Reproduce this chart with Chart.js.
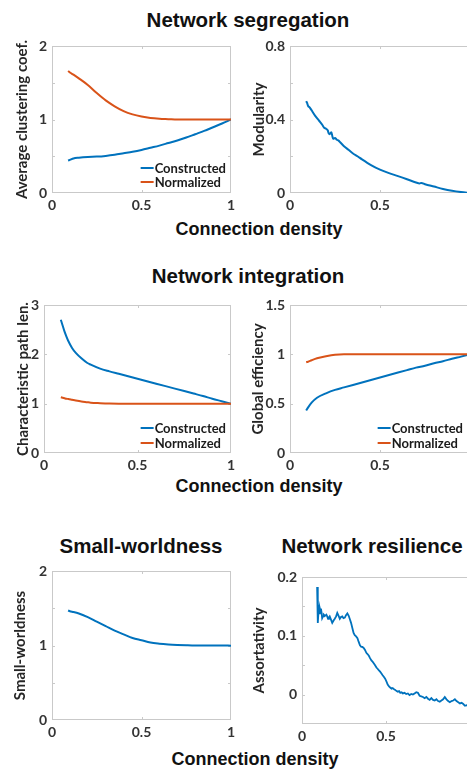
<!DOCTYPE html>
<html>
<head>
<meta charset="utf-8">
<script src="https://cdn.jsdelivr.net/npm/chart.js@4.4.1/dist/chart.umd.min.js"></script>
<style>
  html, body { margin: 0; padding: 0; background: #fff; }
  body { position: relative; width: 467px; height: 773px; overflow: hidden; }
  .ttl { position: absolute; font-family: "Liberation Sans", Arial, sans-serif; font-weight: bold;
         color: #111; white-space: nowrap; line-height: 1; transform: translate(-50%, -50%); }
  canvas { position: absolute; }
</style>
</head>
<body>
<div class="ttl" style="left:248px; top:20px; font-size:20.5px">Network segregation</div>
<div class="ttl" style="left:259px; top:229px; font-size:18px">Connection density</div>
<div class="ttl" style="left:248px; top:276px; font-size:20.5px">Network integration</div>
<div class="ttl" style="left:259px; top:486px; font-size:18px">Connection density</div>
<div class="ttl" style="left:141px; top:546px; font-size:20.5px">Small-worldness</div>
<div class="ttl" style="left:372px; top:546px; font-size:20.5px">Network resilience</div>
<div class="ttl" style="left:255px; top:759px; font-size:18px">Connection density</div>

<script>
// Connection density sample points
const densA = [0.09, 0.1, 0.12, 0.15, 0.2, 0.25, 0.3, 0.35, 0.4, 0.45, 0.5, 0.55, 0.6, 0.65, 0.7, 0.75, 0.8, 0.85, 0.9, 0.95, 1.0];
const densP = [0.09, 0.1, 0.11, 0.12, 0.13, 0.15, 0.17, 0.2, 0.23, 0.25, 0.3, 0.35, 0.4, 0.45, 0.5, 0.55, 0.6, 0.65, 0.7, 0.75, 0.8, 0.85, 0.9, 0.95, 1.0];
const densM = [0.09, 0.095, 0.1, 0.11, 0.12, 0.14, 0.16, 0.18, 0.19, 0.2, 0.21, 0.215, 0.22, 0.23, 0.235, 0.24, 0.25, 0.26, 0.27, 0.28, 0.3, 0.325, 0.35, 0.375, 0.4, 0.45, 0.5, 0.55, 0.6, 0.65, 0.7, 0.72, 0.73, 0.75, 0.8, 0.85, 0.9, 0.95, 1.0];
const densR = [0.09, 0.093, 0.095, 0.098, 0.1, 0.103, 0.106, 0.11, 0.113, 0.117, 0.12, 0.125, 0.13, 0.137, 0.145, 0.15, 0.155, 0.16, 0.165, 0.172, 0.18, 0.188, 0.195, 0.203, 0.21, 0.218, 0.225, 0.232, 0.24, 0.247, 0.255, 0.262, 0.27, 0.278, 0.285, 0.292, 0.3, 0.307, 0.314, 0.322, 0.33, 0.337, 0.345, 0.353, 0.36, 0.368, 0.375, 0.383, 0.39, 0.398, 0.405, 0.413, 0.42, 0.428, 0.435, 0.443, 0.45, 0.458, 0.465, 0.473, 0.48, 0.488, 0.495, 0.503, 0.51, 0.518, 0.525, 0.533, 0.54, 0.548, 0.555, 0.563, 0.57, 0.578, 0.585, 0.593, 0.6, 0.61, 0.62, 0.63, 0.64, 0.65, 0.66, 0.67, 0.68, 0.69, 0.7, 0.71, 0.72, 0.73, 0.74, 0.75, 0.76, 0.77, 0.78, 0.79, 0.8, 0.81, 0.82, 0.83, 0.84, 0.85, 0.86, 0.87, 0.88, 0.89, 0.9, 0.91, 0.92, 0.93, 0.94, 0.95, 0.96, 0.97, 0.98, 0.99, 1.0];

// Network segregation
const clusteringConstructed = [0.44, 0.45, 0.47, 0.48, 0.49, 0.495, 0.505, 0.52, 0.54, 0.56, 0.585, 0.615, 0.645, 0.68, 0.715, 0.755, 0.8, 0.845, 0.895, 0.945, 1.0];
const clusteringNormalized  = [1.66, 1.64, 1.61, 1.56, 1.47, 1.36, 1.26, 1.18, 1.115, 1.07, 1.04, 1.02, 1.01, 1.005, 1.0, 1.0, 1.0, 1.0, 1.0, 1.0, 1.0];
const modularity = [0.50, 0.49, 0.475, 0.465, 0.45, 0.42, 0.395, 0.37, 0.355, 0.35, 0.34, 0.325, 0.32, 0.33, 0.31, 0.295, 0.30, 0.29, 0.285, 0.275, 0.255, 0.235, 0.215, 0.2, 0.183, 0.152, 0.127, 0.108, 0.092, 0.075, 0.057, 0.052, 0.055, 0.048, 0.035, 0.022, 0.012, 0.005, 0.0];

// Network integration
const pathConstructed = [2.7, 2.58, 2.46, 2.36, 2.27, 2.13, 2.03, 1.92, 1.83, 1.79, 1.71, 1.655, 1.605, 1.555, 1.505, 1.455, 1.405, 1.355, 1.305, 1.255, 1.205, 1.155, 1.1, 1.05, 1.0];
const pathNormalized  = [1.13, 1.12, 1.11, 1.1, 1.095, 1.08, 1.065, 1.045, 1.03, 1.02, 1.01, 1.003, 1.0, 1.0, 1.0, 1.0, 1.0, 1.0, 1.0, 1.0, 1.0, 1.0, 1.0, 1.0, 1.0];
const efficiencyConstructed = [0.43, 0.46, 0.51, 0.56, 0.605, 0.64, 0.665, 0.69, 0.715, 0.74, 0.765, 0.79, 0.815, 0.84, 0.865, 0.885, 0.91, 0.93, 0.955, 0.977, 1.0];
const efficiencyNormalized  = [0.92, 0.925, 0.94, 0.96, 0.98, 0.995, 1.0, 1.0, 1.0, 1.0, 1.0, 1.0, 1.0, 1.0, 1.0, 1.0, 1.0, 1.0, 1.0, 1.0, 1.0];

// Small-worldness and resilience
const smallWorldness = [1.47, 1.46, 1.45, 1.43, 1.38, 1.32, 1.26, 1.2, 1.15, 1.1, 1.07, 1.04, 1.025, 1.015, 1.008, 1.003, 1.0, 1.0, 1.0, 1.0, 0.998];
const assortativity = [0.183, 0.150, 0.122, 0.140, 0.153, 0.138, 0.147, 0.142, 0.146, 0.138, 0.130, 0.133, 0.136, 0.134, 0.136, 0.133, 0.129, 0.131, 0.133, 0.128, 0.122, 0.126, 0.129, 0.133, 0.139, 0.134, 0.129, 0.132, 0.133, 0.130, 0.131, 0.135, 0.138, 0.134, 0.128, 0.122, 0.113, 0.105, 0.101, 0.099, 0.096, 0.090, 0.084, 0.081, 0.081, 0.079, 0.076, 0.071, 0.069, 0.066, 0.062, 0.058, 0.056, 0.053, 0.050, 0.046, 0.044, 0.041, 0.039, 0.036, 0.033, 0.030, 0.027, 0.022, 0.017, 0.014, 0.012, 0.010, 0.011, 0.009, 0.008, 0.006, 0.005, 0.006, 0.003, 0.004, 0.002, 0.003, 0.001, 0.002, -0.001, 0.001, 0.000, 0.002, 0.004, 0.003, -0.002, -0.003, -0.004, -0.006, -0.004, -0.007, -0.009, -0.006, -0.009, -0.010, -0.008, -0.011, -0.012, -0.010, -0.008, -0.004, -0.008, -0.011, -0.013, -0.011, -0.010, -0.008, -0.011, -0.013, -0.015, -0.014, -0.016, -0.019, -0.018, -0.020, -0.022];

const seriesNames = ['Constructed', 'Normalized'];
const BLUE = '#0072BD', ORANGE = '#D95319';
const TICK_FONT = { family: 'Lato, "Open Sans", sans-serif', size: 14, weight: 'bold' };
const AXIS_FONT = { family: 'Lato, "Open Sans", sans-serif', size: 15, weight: 'bold', lineHeight: 1 };
const LEGEND_FONT = 'bold 13px Lato, "Open Sans", sans-serif';

function pts(xs, ys) { return xs.map((x, i) => ({ x: x, y: ys[i] })); }

// Box around the plot area with short inward tick marks on all four sides
const framePlugin = {
  id: 'frame',
  beforeDatasetsDraw(chart) {
    const { ctx, chartArea: a, scales } = chart;
    ctx.save();
    ctx.strokeStyle = '#c9c9c9';
    ctx.lineWidth = 1;
    ctx.strokeRect(a.left + 0.5, a.top + 0.5, a.right - a.left - 1, a.bottom - a.top - 1);
    const len = 3;
    ctx.beginPath();
    scales.x.ticks.forEach(t => {
      const p = Math.round(scales.x.getPixelForValue(t.value)) + 0.5;
      if (p <= a.left + 2 || p >= a.right - 2) return;
      ctx.moveTo(p, a.bottom); ctx.lineTo(p, a.bottom - len);
      ctx.moveTo(p, a.top); ctx.lineTo(p, a.top + len);
    });
    scales.y.ticks.forEach(t => {
      const p = Math.round(scales.y.getPixelForValue(t.value)) + 0.5;
      if (p <= a.top + 2 || p >= a.bottom - 2) return;
      ctx.moveTo(a.left, p); ctx.lineTo(a.left + len, p);
      ctx.moveTo(a.right, p); ctx.lineTo(a.right - len, p);
    });
    ctx.stroke();
    ctx.restore();
  }
};

// Legend drawn inside the lower right corner of the plot area
const insetLegendPlugin = {
  id: 'insetLegend',
  afterDatasetsDraw(chart, args, opts) {
    if (!opts || !opts.display) return;
    const { ctx, chartArea: a } = chart;
    const ds = chart.data.datasets;
    ctx.save();
    ctx.font = LEGEND_FONT;
    ctx.textBaseline = 'middle';
    ctx.textAlign = 'left';
    const w = Math.max(...ds.map(d => ctx.measureText(d.label).width));
    const textLeft = a.right - opts.right - w;
    ds.forEach((d, i) => {
      const yy = a.bottom - opts.bottom - (ds.length - 1 - i) * opts.rowGap;
      ctx.strokeStyle = d.borderColor;
      ctx.lineWidth = 2;
      ctx.beginPath();
      ctx.moveTo(textLeft - 14, yy);
      ctx.lineTo(textLeft - 1, yy);
      ctx.stroke();
      ctx.fillStyle = '#1a1a1a';
      ctx.fillText(d.label, textLeft, yy + 0.5);
    });
    ctx.restore();
  }
};

function fmt(v) {
  const r = Math.round(v * 1000) / 1000;
  return String(r);
}

function makePanel(p) {
  const cv = document.createElement('canvas');
  cv.width = p.box[2]; cv.height = p.box[3];
  cv.style.left = p.box[0] + 'px'; cv.style.top = p.box[1] + 'px';
  cv.style.width = p.box[2] + 'px'; cv.style.height = p.box[3] + 'px';
  document.body.appendChild(cv);
  const [L, T, R, B] = p.area;
  const x0 = p.box[0], y0 = p.box[1];
  new Chart(cv, {
    type: 'line',
    data: {
      datasets: p.series.map((s, i) => ({
        label: s.label,
        data: pts(s.x, s.y),
        borderColor: s.color,
        backgroundColor: s.color,
        borderWidth: p.lineWidth || 2,
        pointRadius: 0,
        fill: false,
        tension: p.tension === undefined ? 0.3 : p.tension,
        cubicInterpolationMode: p.tension === 0 ? 'default' : 'monotone',
        order: p.series.length - i
      }))
    },
    options: {
      responsive: false,
      animation: false,
      devicePixelRatio: 1,
      layout: { padding: { left: 0, top: T - y0, right: x0 + p.box[2] - R, bottom: 0 } },
      plugins: {
        legend: { display: false },
        tooltip: { enabled: false },
        insetLegend: p.legend || { display: false }
      },
      scales: {
        x: {
          type: 'linear', min: 0, max: 1,
          grid: { display: false, drawTicks: false },
          border: { display: false },
          ticks: { stepSize: 0.5, font: TICK_FONT, color: '#333', padding: 4, maxRotation: 0,
                   callback: v => fmt(v) },
          afterFit: sc => { sc.height = y0 + p.box[3] - B; }
        },
        y: {
          type: 'linear', min: p.yMin, max: p.yMax,
          grid: { display: false, drawTicks: false },
          border: { display: false },
          ticks: {
            stepSize: p.yStep, font: TICK_FONT, color: '#333', padding: 5,
            callback: v => {
              const k = v / p.yLabelStep;
              return Math.abs(k - Math.round(k)) < 1e-6 ? fmt(v) : '';
            }
          },
          title: { display: true, text: p.yTitle, font: AXIS_FONT, color: '#262626',
                   padding: { top: p.titleX - 7, bottom: 0 } },
          afterFit: sc => { sc.width = L - x0; }
        }
      }
    },
    plugins: [framePlugin, insetLegendPlugin]
  });
}

const panels = [
  { box: [0, 30, 240, 190], area: [52, 46, 231, 193], yMin: 0, yMax: 2, yStep: 0.5, yLabelStep: 1,
    yTitle: 'Average clustering coef.', titleX: 22,
    series: [ { label: seriesNames[0], x: densA, y: clusteringConstructed, color: BLUE },
              { label: seriesNames[1], x: densA, y: clusteringNormalized, color: ORANGE } ],
    legend: { display: true, right: 5, bottom: 11, rowGap: 14 } },
  { box: [240, 30, 240, 190], area: [290, 46, 470, 193], yMin: 0, yMax: 0.8, yStep: 0.2, yLabelStep: 0.4,
    yTitle: 'Modularity', titleX: 19,
    series: [ { label: 'Modularity', x: densM, y: modularity, color: BLUE } ] },
  { box: [0, 290, 240, 190], area: [44, 305, 231, 453], yMin: 0, yMax: 3, yStep: 1, yLabelStep: 1,
    yTitle: 'Characteristic path len.', titleX: 23,
    series: [ { label: seriesNames[0], x: densP, y: pathConstructed, color: BLUE },
              { label: seriesNames[1], x: densP, y: pathNormalized, color: ORANGE } ],
    legend: { display: true, right: 5, bottom: 10, rowGap: 15 } },
  { box: [240, 290, 240, 190], area: [290, 305, 470, 453], yMin: 0, yMax: 1.5, yStep: 0.5, yLabelStep: 0.5,
    yTitle: 'Global efficiency', titleX: 18,
    series: [ { label: seriesNames[0], x: densA, y: efficiencyConstructed, color: BLUE },
              { label: seriesNames[1], x: densA, y: efficiencyNormalized, color: ORANGE } ],
    legend: { display: true, right: 7, bottom: 10, rowGap: 15 } },
  { box: [0, 556, 240, 194], area: [52, 571, 231, 720], yMin: 0, yMax: 2, yStep: 0.5, yLabelStep: 1,
    yTitle: 'Small-worldness', titleX: 20,
    series: [ { label: 'Small-worldness', x: densA, y: smallWorldness, color: BLUE } ] },
  { box: [240, 562, 240, 190], area: [302, 577, 470, 724], yMin: -0.05, yMax: 0.2, yStep: 0.05, yLabelStep: 0.1,
    yTitle: 'Assortativity', titleX: 19, tension: 0, lineWidth: 1.8,
    series: [ { label: 'Assortativity', x: densR, y: assortativity, color: BLUE } ] }
];

panels.forEach(makePanel);
</script>
</body>
</html>
